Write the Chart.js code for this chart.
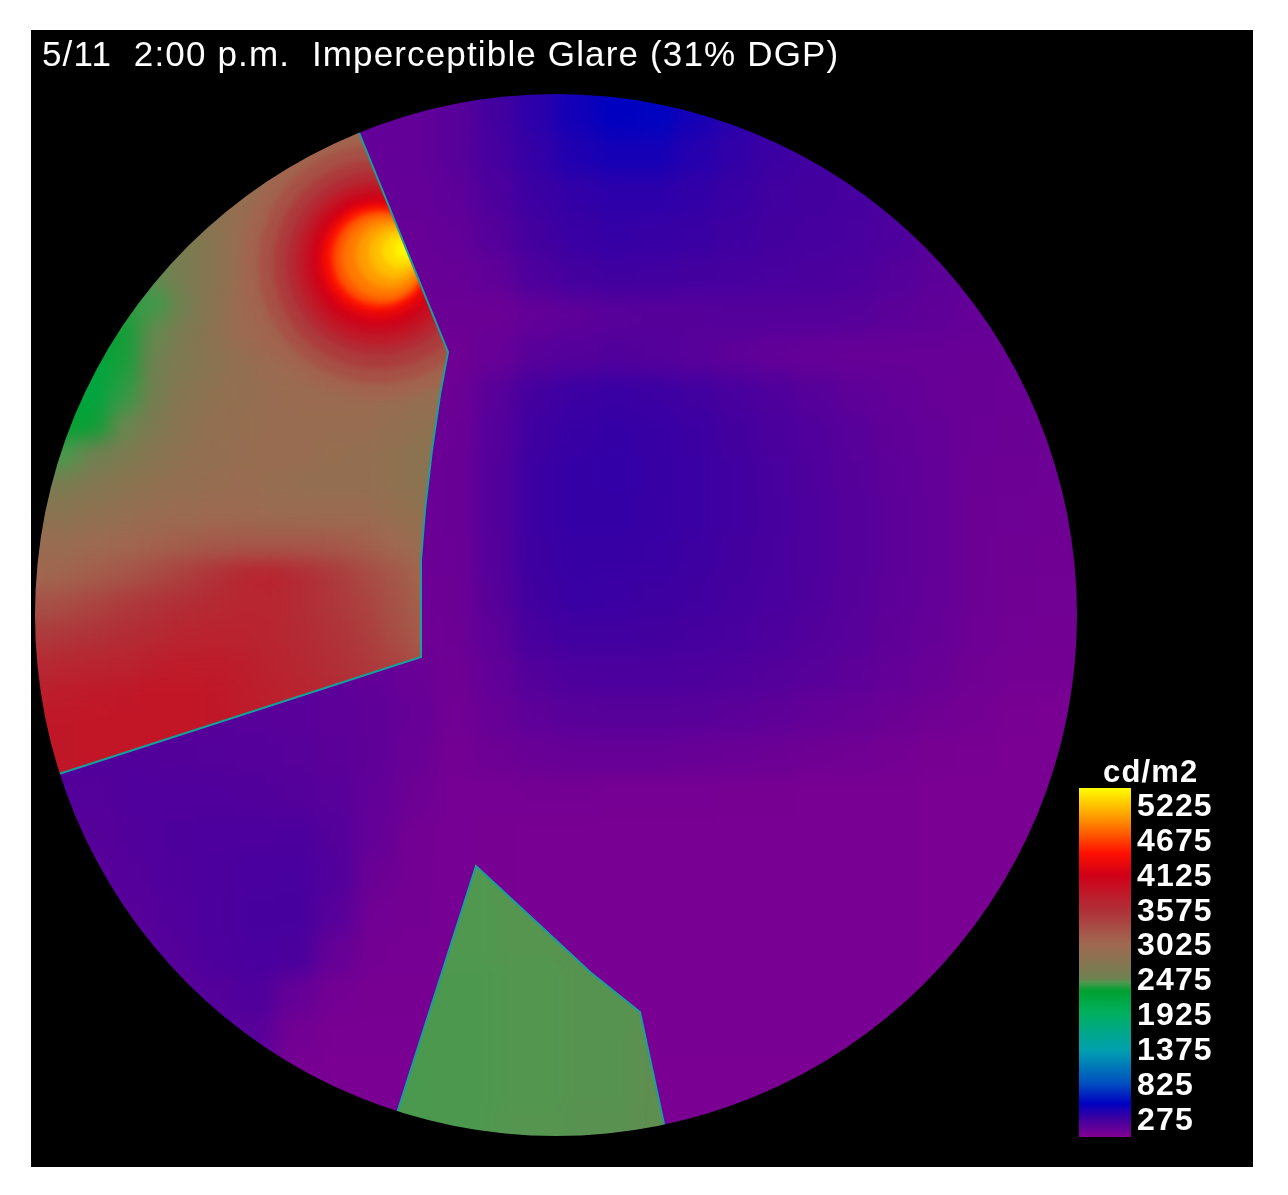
<!DOCTYPE html>
<html>
<head>
<meta charset="utf-8">
<title>Glare map</title>
<script src="https://cdn.jsdelivr.net/npm/chart.js@4"></script>
<style>
  html, body { margin: 0; padding: 0; background: #fff; }
  #frame { position: absolute; left: 31px; top: 30px; width: 1222px; height: 1137px; background: #000; }
  #map { position: absolute; left: 0; top: 0; }
</style>
</head>
<body>
<div id="frame"></div>
<canvas id="map" width="1288" height="1195"></canvas>
<script>
const chartTitle = "5/11  2:00 p.m.  Imperceptible Glare (31% DGP)";
const legendUnit = "cd/m2";
const legendTicks = [5225, 4675, 4125, 3575, 3025, 2475, 1925, 1375, 825, 275];
const legendRange = [-7, 5493];

// colour key: luminance, colour
const keyValues = [0, 275, 520, 840, 1360, 1945, 2300, 2430, 2500, 3045, 3565, 4120, 4470, 4990, 5500];
const keyColours = ["#800090", "#4000a0", "#0000c0", "#0050c0", "#00a0b0", "#00b060", "#00a030",
  "#509850", "#708050", "#a06850", "#b03038", "#d00018", "#ff1000", "#ff9000", "#ffff00"];

// fisheye view, in picture units
const viewCentre = [556, 615];
const viewRadius = 521;

// room surfaces luminance, cd/m2, one row every 40 units from y=75, x from 56
const roomLuminance = [
  [130,130,130,130,130,130,130,130,130,130,170,260,350,450,520,530,440,360,300,280,270,270,270,270,270,270,270],
  [130,130,130,130,130,130,130,130,130,130,170,260,350,450,520,530,440,360,300,280,270,270,270,270,270,270,270],
  [120,120,120,120,120,120,120,120,120,130,170,250,320,400,440,440,380,330,290,270,260,250,250,240,230,220,220],
  [120,120,120,120,120,120,120,120,120,120,150,220,290,330,350,350,330,300,270,260,250,230,200,190,180,170,170],
  [110,110,110,110,110,110,110,110,110,110,130,190,260,300,320,310,300,280,260,250,240,220,180,150,140,130,130],
  [100,100,100,100,100,100,100,100,100,100,110,140,220,260,275,270,260,250,240,230,220,190,160,130,110,100,100],
  [90,90,90,90,90,90,90,90,90,90,90,90,130,150,170,180,180,190,190,190,180,160,140,120,110,100,100],
  [80,80,80,80,80,80,80,80,80,80,75,110,170,190,200,190,170,150,130,120,110,110,110,105,95,90,90],
  [80,80,80,80,80,80,80,80,80,80,85,170,260,290,300,290,270,240,210,180,150,130,110,100,95,85,85],
  [85,85,85,85,85,85,85,85,85,85,95,185,280,310,320,310,290,260,230,200,170,140,120,95,90,85,85],
  [90,90,90,90,90,90,90,90,90,90,100,195,290,320,325,315,295,270,240,210,180,150,125,90,85,80,80],
  [90,90,90,90,90,90,90,90,90,90,100,195,290,320,320,310,295,270,245,215,185,155,130,85,80,75,75],
  [85,85,85,85,85,85,85,85,85,85,95,190,285,310,310,300,285,265,240,215,185,155,130,85,75,70,70],
  [80,80,80,80,80,80,80,80,80,80,90,180,275,300,295,285,275,255,235,210,180,150,125,85,70,65,65],
  [75,75,75,75,75,75,75,75,75,75,85,160,245,270,270,265,255,240,220,195,170,140,115,80,65,60,60],
  [170,170,170,170,170,170,160,150,130,100,75,135,195,220,225,225,220,205,190,170,150,125,100,70,50,50,50],
  [190,190,185,180,175,170,165,155,140,110,65,110,150,170,175,175,170,160,145,125,110,90,70,50,35,30,30],
  [200,200,200,195,190,185,175,160,140,100,55,80,100,110,110,110,105,95,85,75,65,50,40,35,30,30,30],
  [190,190,205,205,205,200,190,170,130,80,45,45,50,50,45,45,45,40,40,35,35,35,30,30,30,30,30],
  [180,180,200,215,220,220,225,190,120,60,45,40,35,35,35,35,35,35,35,35,35,35,30,30,30,30,30],
  [170,170,190,210,225,235,240,200,90,55,45,40,35,35,35,35,35,35,35,35,35,35,30,30,30,30,30],
  [160,160,175,200,225,245,245,170,65,50,45,40,35,35,35,35,35,35,35,35,35,35,30,30,30,30,30],
  [150,150,165,190,220,235,230,110,50,45,40,40,35,35,35,35,35,35,35,35,35,35,30,30,30,30,30],
  [150,150,150,165,190,210,120,50,40,40,40,35,35,35,35,35,35,35,35,35,35,35,30,30,30,30,30],
  [150,150,150,150,170,170,60,35,35,35,35,35,35,35,35,35,35,35,35,35,35,35,30,30,30,30,30],
  [150,150,150,150,150,130,40,30,30,30,30,30,30,30,30,30,30,30,30,30,30,30,30,30,30,30,30],
  [40,40,40,40,40,40,40,30,30,30,30,30,30,30,30,30,30,30,30,30,30,30,30,30,30,30,30],
  [40,40,40,40,40,40,40,30,30,30,30,30,30,30,30,30,30,30,30,30,30,30,30,30,30,30,30]
];

// left window, one row every 30 units from y=125, x from 5
const leftWindowLuminance = [
  [2900,2900,2900,2900,2900,2900,2900,2900,2950,3000,3000,3000,3050,3050,3050,3050],
  [2800,2800,2800,2800,2800,2800,2800,2800,2900,2950,3000,3050,3100,3100,3100,3100],
  [2700,2700,2700,2700,2700,2700,2700,2780,2900,3000,3080,3150,3250,3300,3300,3300],
  [2600,2600,2600,2600,2600,2600,2700,2800,2950,3050,3150,3300,3400,3400,3400,3400],
  [2500,2500,2500,2500,2500,2500,2600,2770,2980,3100,3300,3400,3400,3400,3400,3400],
  [2400,2400,2400,2400,2400,2480,2600,2770,3000,3150,3350,3400,3400,3400,3400,3400],
  [2350,2350,2350,2350,2370,2400,2550,2790,3020,3150,3300,3400,3400,3400,3400,3400],
  [2300,2300,2300,2300,2330,2480,2650,2810,3000,3080,3150,3250,3250,3200,3150,3150],
  [2200,2200,2200,2200,2340,2500,2680,2800,2900,3000,3030,3050,3050,3030,3000,2950],
  [2180,2180,2180,2180,2380,2550,2750,2850,2900,2950,2980,2980,2980,2960,2930,2930],
  [2280,2280,2280,2320,2480,2650,2800,2880,2920,2950,2950,2950,2950,2900,2850,2850],
  [2400,2400,2420,2500,2620,2750,2850,2900,2930,2950,2950,2920,2900,2850,2800,2800],
  [2600,2600,2620,2700,2780,2850,2900,2930,2950,2930,2900,2900,2900,2850,2800,2800],
  [2800,2800,2800,2850,2900,2950,2980,3000,3000,2980,2980,2980,2980,2920,2850,2850],
  [2950,2950,2950,3000,3050,3100,3150,3180,3200,3200,3200,3180,3130,3030,2950,2950],
  [3050,3050,3080,3150,3220,3320,3430,3550,3680,3700,3600,3480,3330,3200,3050,3050],
  [3250,3250,3300,3380,3470,3550,3600,3650,3680,3680,3600,3500,3400,3250,3100,3100],
  [3450,3450,3500,3550,3600,3650,3700,3720,3720,3680,3620,3550,3450,3300,3150,3150],
  [3650,3650,3680,3700,3720,3780,3800,3800,3780,3720,3660,3580,3500,3400,3250,3250],
  [3780,3780,3800,3830,3850,3870,3870,3850,3800,3750,3700,3650,3600,3500,3400,3400],
  [3850,3850,3850,3870,3880,3880,3870,3850,3820,3780,3730,3700,3650,3600,3500,3500],
  [3850,3850,3850,3870,3880,3880,3870,3850,3820,3780,3730,3700,3650,3600,3500,3500],
  [3850,3850,3850,3870,3880,3880,3870,3850,3820,3780,3730,3700,3650,3600,3500,3500]
];

// bottom window, one row every 70 units from y=860, x from 390
const bottomWindowLuminance = [
  [2420,2430,2440,2450,2460],
  [2420,2430,2440,2450,2460],
  [2420,2425,2435,2445,2455],
  [2420,2425,2435,2445,2460],
  [2420,2425,2440,2450,2460]
];

// sun patch, largest ring first
const sunRingX = [378,378,378,378,378,378,378,378,378,378,380,384,389,394,399,404];
const sunRingY = [264,264,264,263,263,262,261,260,259,258,258,257,255,253,251,250];
const sunRingRadius = [135,120,105,92,82,74,66,60,54,50,47,41,33,25,17,9];
const sunRingLuminance = [3080,3260,3450,3620,3800,3950,4100,4250,4400,4480,4750,4900,5050,5200,5350,5480];

// window outlines
const leftEdgeX = [346,360,448,440,432,425,421,421,62,20];
const leftEdgeY = [100,135,352,395,450,510,560,657,773,786];
const leftCloseX = [20];
const leftCloseY = [100];
const bottomEdgeX = [390,476,545,590,640,664,668];
const bottomEdgeY = [1135,866,930,972,1012,1124,1145];

function hexToRgb(hex) {
  return [1, 3, 5].map((i) => parseInt(hex.slice(i, i + 2), 16));
}

function colourFor(value) {
  let i = 0;
  while (i < keyValues.length - 2 && value > keyValues[i + 1]) i++;
  const t = Math.min(1, Math.max(0, (value - keyValues[i]) / (keyValues[i + 1] - keyValues[i])));
  const a = hexToRgb(keyColours[i]);
  const b = hexToRgb(keyColours[i + 1]);
  return "rgb(" + a.map((c, n) => Math.round(c + (b[n] - c) * t)).join(",") + ")";
}

function zip(xs, ys) {
  return xs.map((x, i) => ({ x: x, y: ys[i] }));
}

const looseClip = { left: 42, top: 0, right: 35, bottom: 28 };

function heatDataset(rows, x0, y0, step, order, stage) {
  const points = [];
  const colours = [];
  rows.forEach((row, r) => {
    row.forEach((value, c) => {
      points.push({ x: x0 + c * step, y: y0 + r * step });
      colours.push(colourFor(value));
    });
  });
  return {
    type: "scatter",
    data: points,
    pointStyle: "rect",
    pointRadius: (step + 1) * Math.SQRT1_2,
    pointBorderWidth: 0,
    pointBackgroundColor: colours,
    clip: looseClip,
    stage: stage,
    order: order,
  };
}

function edgeDataset(xs, ys, order, stage) {
  return {
    type: "line",
    data: zip(xs, ys),
    borderColor: "#18a09a",
    borderWidth: 2,
    pointRadius: 0,
    tension: 0,
    clip: looseClip,
    stage: stage,
    order: order,
  };
}

const leftRegion = zip(leftEdgeX.concat(leftCloseX), leftEdgeY.concat(leftCloseY));
const bottomRegion = zip(bottomEdgeX, bottomEdgeY);

const sunDataset = {
  type: "scatter",
  data: zip(sunRingX, sunRingY),
  pointStyle: "circle",
  pointRadius: sunRingRadius,
  pointBorderWidth: 0,
  pointBackgroundColor: sunRingLuminance.map(colourFor),
  clip: looseClip,
  stage: "sun",
  order: 3,
};

const legendBar = {
  type: "line",
  data: legendRange.map((v) => ({ x: 1105, y: v })),
  yAxisID: "legendY",
  borderWidth: 52,
  pointRadius: 0,
  borderColor: (context) => {
    const chart = context.chart;
    if (!chart.chartArea) return "#000";
    const scale = chart.scales.legendY;
    const top = scale.getPixelForValue(5500);
    const bottom = scale.getPixelForValue(0);
    if (!isFinite(top) || !isFinite(bottom)) return "#000";
    const g = chart.ctx.createLinearGradient(0, bottom, 0, top);
    keyValues.forEach((v, i) => g.addColorStop(v / 5500, keyColours[i]));
    return g;
  },
  order: 0,
};

function traceRegion(chart, region) {
  const sx = chart.scales.x;
  const sy = chart.scales.y;
  region.forEach((p, i) => {
    const x = sx.getPixelForValue(p.x);
    const y = sy.getPixelForValue(p.y);
    if (i === 0) chart.ctx.moveTo(x, y);
    else chart.ctx.lineTo(x, y);
  });
  chart.ctx.closePath();
}

// smooths what has been drawn so far, leaving the title alone
function softenCanvas(chart, sigma) {
  const ctx = chart.ctx;
  ctx.save();
  ctx.beginPath();
  ctx.rect(0, chart.chartArea.top, chart.width, chart.height - chart.chartArea.top);
  ctx.clip();
  ctx.filter = "blur(" + sigma + "px)";
  ctx.drawImage(chart.canvas, 0, 0, chart.width, chart.height);
  ctx.restore();
}

let windowLayer = null;

// the windows are painted first, then the room, then the windows are put back
// inside their outlines so the edges stay sharp; all is cut to the fisheye circle
const viewLayers = {
  id: "viewLayers",
  beforeDraw(chart) {
    chart.ctx.letterSpacing = "1.15px";
  },
  beforeDatasetDraw(chart, args) {
    const ds = chart.data.datasets[args.index];
    const ctx = chart.ctx;
    ctx.save();
    if (ds.stage === "sun") {
      ctx.beginPath();
      traceRegion(chart, leftRegion);
      ctx.clip();
      ctx.filter = "blur(3px)";
    }
  },
  afterDatasetDraw(chart, args) {
    const ds = chart.data.datasets[args.index];
    const ctx = chart.ctx;
    ctx.restore();
    if (ds.stage === "windows") {
      softenCanvas(chart, 10);
      windowLayer = document.createElement("canvas");
      windowLayer.width = chart.canvas.width;
      windowLayer.height = chart.canvas.height;
      windowLayer.getContext("2d").drawImage(chart.canvas, 0, 0);
    }
    if (ds.stage === "room") {
      softenCanvas(chart, 10);
      ctx.save();
      ctx.beginPath();
      traceRegion(chart, leftRegion);
      traceRegion(chart, bottomRegion);
      ctx.clip();
      ctx.drawImage(windowLayer, 0, 0, chart.width, chart.height);
      ctx.restore();
    }
    if (ds.stage === "mask") {
      const sx = chart.scales.x;
      const top = chart.chartArea.top;
      ctx.save();
      ctx.globalCompositeOperation = "destination-out";
      ctx.beginPath();
      ctx.rect(0, top, chart.width, chart.height - top);
      ctx.moveTo(sx.getPixelForValue(viewCentre[0] + viewRadius), chart.scales.y.getPixelForValue(viewCentre[1]));
      ctx.arc(sx.getPixelForValue(viewCentre[0]), chart.scales.y.getPixelForValue(viewCentre[1]),
        sx.getPixelForValue(viewCentre[0] + viewRadius) - sx.getPixelForValue(viewCentre[0]), 0, Math.PI * 2);
      ctx.fill("evenodd");
      ctx.restore();
    }
  },
};

// legend texts, placed through the legend scale
const legendLabels = {
  id: "legendLabels",
  afterDraw(chart) {
    const ctx = chart.ctx;
    const sx = chart.scales.x;
    const sl = chart.scales.legendY;
    ctx.save();
    ctx.fillStyle = "#fff";
    ctx.textAlign = "left";
    ctx.textBaseline = "middle";
    ctx.font = "bold 31px 'Liberation Sans'";
    ctx.fillText(legendUnit, sx.getPixelForValue(1103), sl.getPixelForValue(5761) + 2);
    ctx.font = "bold 32px 'Liberation Sans'";
    legendTicks.forEach((v) => ctx.fillText(String(v), sx.getPixelForValue(1137), sl.getPixelForValue(v) + 2));
    ctx.restore();
  },
};

new Chart(document.getElementById("map"), {
  data: {
    datasets: [
      legendBar,
      edgeDataset(leftEdgeX, leftEdgeY, 1, "mask"),
      edgeDataset(bottomEdgeX, bottomEdgeY, 2),
      sunDataset,
      heatDataset(roomLuminance, 56, 75, 40, 4, "room"),
      heatDataset(bottomWindowLuminance, 390, 860, 70, 5, "windows"),
      heatDataset(leftWindowLuminance, 5, 125, 30, 6),
    ],
  },
  options: {
    responsive: false,
    animation: false,
    events: [],
    layout: { autoPadding: false, padding: { left: 42, top: 30, right: 35, bottom: 28 } },
    plugins: {
      legend: { display: false },
      tooltip: { enabled: false },
      title: {
        display: true,
        text: chartTitle,
        align: "start",
        color: "#fff",
        font: { family: "'Liberation Sans'", size: 35, weight: "normal", lineHeight: 1.25 },
        padding: { top: 4, bottom: 2.25 },
      },
    },
    scales: {
      x: { type: "linear", display: false, min: 42, max: 1253 },
      y: { type: "linear", display: false, reverse: true, min: 80, max: 1167 },
      legendY: { type: "linear", display: false, position: "left", min: -479.3, max: 16649 },
    },
  },
  plugins: [viewLayers, legendLabels],
});
</script>
</body>
</html>
